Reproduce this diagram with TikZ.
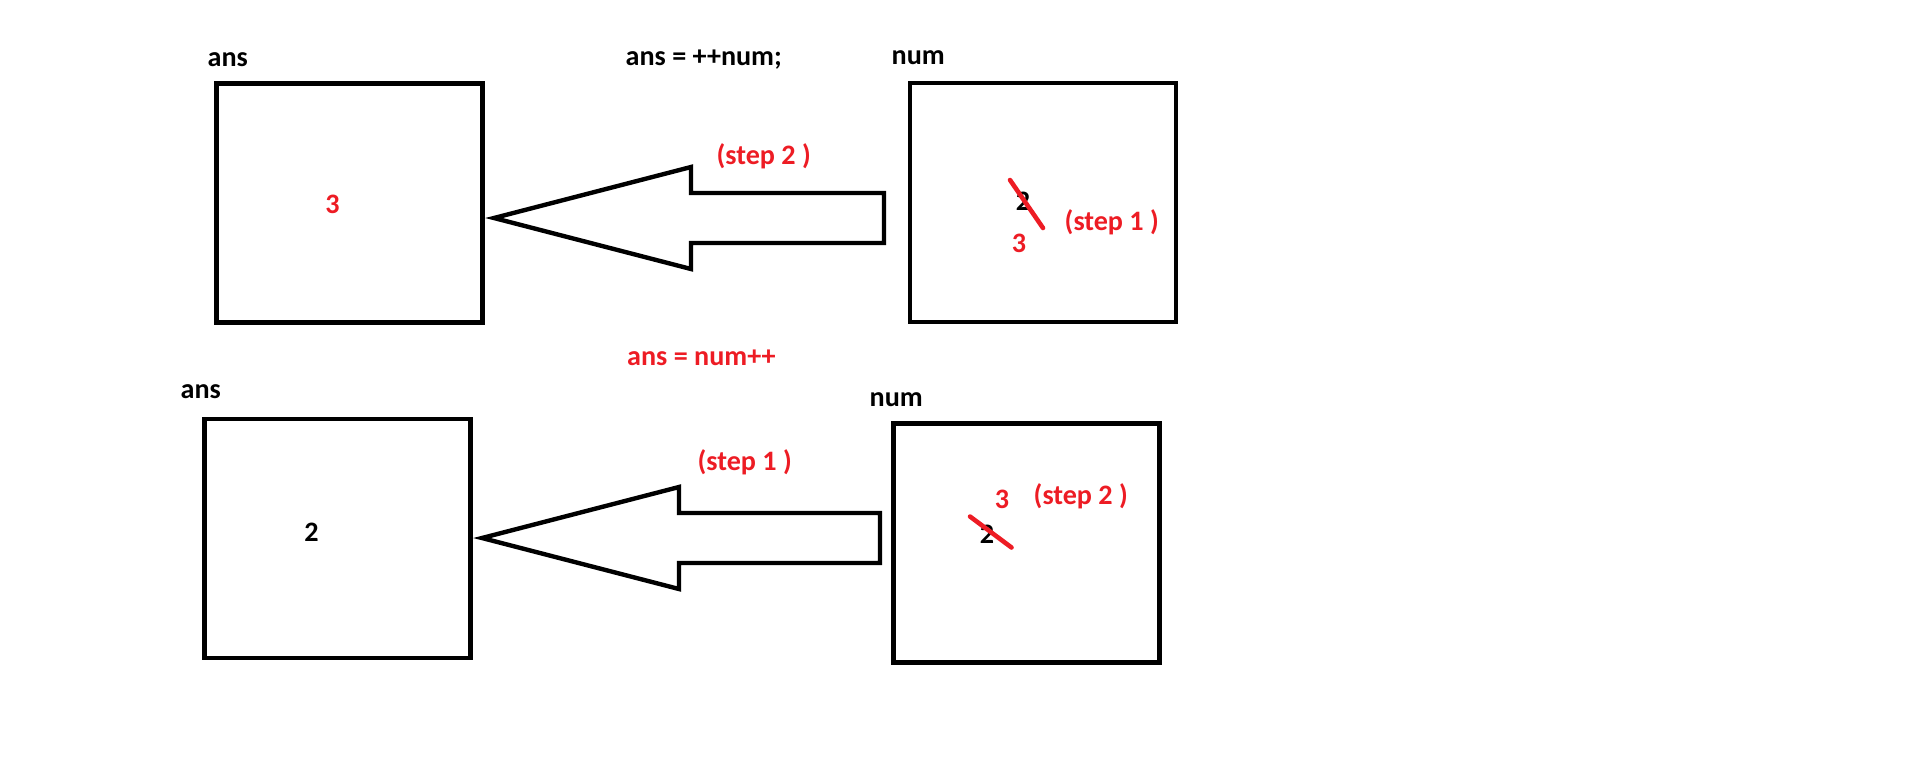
\documentclass[tikz,border=0pt]{standalone}
\usepackage{fontspec}
\setmainfont{Carlito}
\usetikzlibrary{calc}
\definecolor{paintred}{RGB}{237,28,36}
\tikzset{
  cell/.style={draw, line width=1.3pt, minimum width=2.66cm, minimum height=2.39cm, inner sep=0pt},
  lbl/.style={font=\fontsize{8pt}{10pt}\selectfont\bfseries, inner sep=0pt},
  redlbl/.style={lbl, text=paintred},
  blockarrow/.style={draw, line width=1.25pt, line join=miter},
  strike/.style={paintred, line width=1.3pt, line cap=round}
}
\newcommand{\bigarrow}[2]{%
\draw[blockarrow] (#1) -- ++(197,-51) |- ($(#2)+(0,-25)$) -- ($(#2)+(0,25)$) -| ($(#1)+(197,51)$) -- cycle;}

\begin{document}
\begin{tikzpicture}[x=0.01cm, y=-0.01cm]
\useasboundingbox (0,0) rectangle (1910,772);
\node[cell] (ansA) at (349.5,203) {};
\node[cell] (numA) at (1043,202.5) {};
\node[cell] (ansB) at (337.5,538.5) {};
\node[cell] (numB) at (1026.5,543) {};
\node[lbl, anchor=base west] (ansAname) at (207,66.5) {ans};
\node[lbl, anchor=base west] (codeA) at (625,65) {ans = ++num;};
\node[lbl, anchor=base west] (numAname) at (891,64) {num};
\node[redlbl, anchor=base west] (stepA2) at (716,164) {(step 2 )};
\node[redlbl, anchor=base] (valA) at (332.5,213) {3};
\node[lbl, anchor=base] (oldA) at (1023,210) {2};
\node[redlbl, anchor=base] (newA) at (1019,252.5) {3};
\node[redlbl, anchor=base west] (stepA1) at (1064,230.5) {(step 1 )};
\node[redlbl, anchor=base west] (codeB) at (626.5,365) {ans = num++};
\node[lbl, anchor=base west] (ansBname) at (180,398) {ans};
\node[lbl, anchor=base] (valB) at (311.5,541.5) {2};
\node[redlbl, anchor=base west] (stepB1) at (697,470.5) {(step 1 )};
\node[lbl, anchor=base west] (numBname) at (869,406) {num};
\node[redlbl, anchor=base] (newB) at (1002,508) {3};
\node[redlbl, anchor=base west] (stepB2) at (1033,504) {(step 2 )};
\node[lbl, anchor=base] (oldB) at (987,543) {2};
\coordinate (tipA) at (494,218);
\coordinate (tailA) at (884,218);
\bigarrow{tipA}{tailA}
\coordinate (tipB) at (482,538);
\coordinate (tailB) at (880,538);
\bigarrow{tipB}{tailB}
\draw[strike] ($(oldA.base)+(-13,-30)$) -- ($(oldA.base)+(20,18)$);
\draw[strike] ($(oldB.base)+(-17,-26.5)$) -- ($(oldB.base)+(24.5,4.5)$);
\end{tikzpicture}
\end{document}
